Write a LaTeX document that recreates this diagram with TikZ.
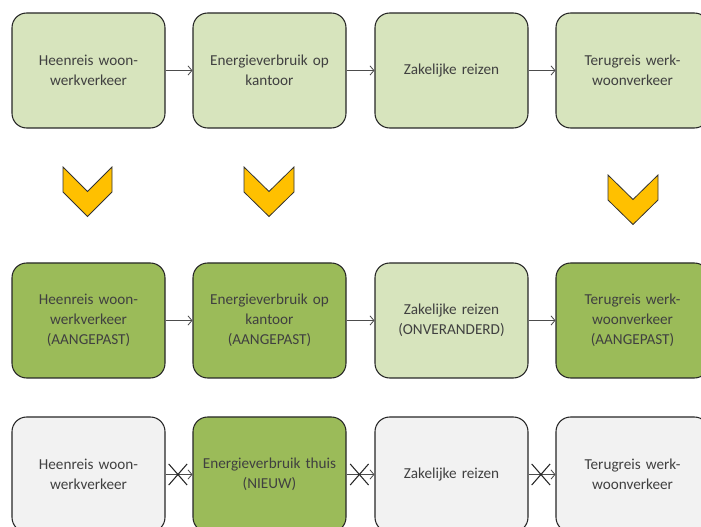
\documentclass[tikz,border=0pt]{standalone}
\usepackage{fontspec}
\setmainfont{Carlito}
\usetikzlibrary{arrows.meta,shapes.misc}
\definecolor{lightgr}{HTML}{D7E4BD}
\definecolor{darkgr}{HTML}{9BBB59}
\definecolor{greybox}{HTML}{F2F2F2}
\definecolor{chev}{HTML}{FFC000}
\definecolor{txt}{HTML}{404040}
\tikzset{
  x=0.75pt, y=-0.75pt,
  stepbox/.style={draw=black!85, line width=0.8pt, rounded corners=11pt,
    minimum width=114.75pt, minimum height=86.25pt, align=center,
    text width=108pt, font=\fontsize{11.4}{15}\selectfont, text=txt},
  light/.style={stepbox, fill=lightgr},
  dark/.style={stepbox, fill=darkgr},
  grey/.style={stepbox, fill=greybox},
  conn/.style={draw=black!70, line width=0.6pt, -{Straight Barb[length=3pt,width=7pt]}},
  xmark/.style={cross out, draw=black!85, line width=0.8pt, minimum width=13pt, minimum height=15pt, inner sep=0pt},
  chevron/.style={fill=chev, draw=black!80, line width=0.6pt}
}
\begin{document}
\begin{tikzpicture}
\useasboundingbox (0,0) rectangle (701,527);
% row 1
\node[light] (a1) at (88.5,70.5) {Heenreis woon-\\werkverkeer};
\node[light] (a2) at (269.5,70.5) {Energieverbruik op\\kantoor};
\node[light] (a3) at (451.5,70.5) {Zakelijke reizen};
\node[light] (a4) at (632.5,70.5) {Terugreis werk-\\woonverkeer};
\draw[conn] (a1) -- (a2);
\draw[conn] (a2) -- (a3);
\draw[conn] (a3) -- (a4);
% chevrons
\draw[chevron] (63,167) -- (87.5,191.5) -- (112,167) -- (112,192) -- (87.5,216.5) -- (63,192) -- cycle;
\draw[chevron] (244,167) -- (269,191.5) -- (294,167) -- (294,192) -- (269,216.5) -- (244,192) -- cycle;
\draw[chevron] (608,175) -- (633,199.5) -- (658,175) -- (658,200) -- (633,224.5) -- (608,200) -- cycle;
% row 2
\node[dark] (b1) at (88.5,320.5) {Heenreis woon-\\werkverkeer\\(AANGEPAST)};
\node[dark] (b2) at (269.5,320.5) {Energieverbruik op\\kantoor\\(AANGEPAST)};
\node[light] (b3) at (451.5,320.5) {Zakelijke reizen\\(ONVERANDERD)};
\node[dark] (b4) at (632.5,320.5) {Terugreis werk-\\woonverkeer\\(AANGEPAST)};
\draw[conn] (b1) -- (b2);
\draw[conn] (b2) -- (b3);
\draw[conn] (b3) -- (b4);
% row 3
\node[grey] (c1) at (88.5,474.5) {Heenreis woon-\\werkverkeer};
\node[dark] (c2) at (269.5,474.5) {Energieverbruik thuis\\(NIEUW)};
\node[grey] (c3) at (451.5,474.5) {Zakelijke reizen};
\node[grey] (c4) at (632.5,474.5) {Terugreis werk-\\woonverkeer};
\draw[conn] (c1) -- node[xmark, pos=0.46] (x1) {} (c2);
\draw[conn] (c2) -- node[xmark, pos=0.46] (x2) {} (c3);
\draw[conn] (c3) -- node[xmark, pos=0.46] (x3) {} (c4);
\end{tikzpicture}
\end{document}
